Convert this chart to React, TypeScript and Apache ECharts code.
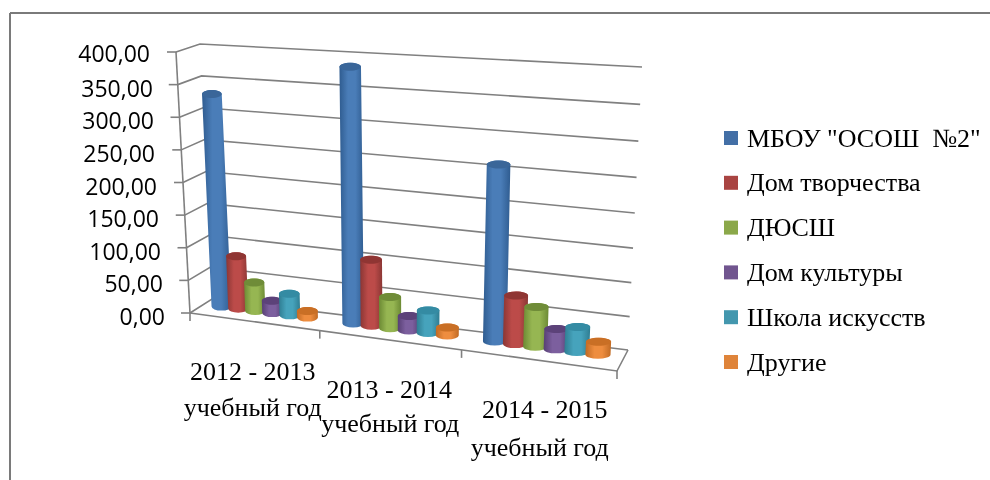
import React, { useEffect, useRef } from "react";
import * as echarts from "echarts";

const categories = ["2012 - 2013\nучебный год", "2013 - 2014\nучебный год", "2014 - 2015\nучебный год"];
const valueTicks = [0, 50, 100, 150, 200, 250, 300, 350, 400];
const seriesNames = ['МБОУ "ОСОШ  №2"', "Дом творчества", "ДЮСШ", "Дом культуры", "Школа искусств", "Другие"];
const mbou = [329, 383, 258];
const domTvorchestva = [81, 100, 72];
const dyussh = [44, 47, 59];
const domKultury = [19, 22, 30];
const shkolaIskusstv = [33, 34, 37];
const drugie = [10, 12, 19];
const seriesValues = [mbou, domTvorchestva, dyussh, domKultury, shkolaIskusstv, drugie];
const legendColors = ["#436FA6", "#A94442", "#8BA84A", "#71558F", "#4397AE", "#DF843A"];
const edgeColors = ["#2F5C90", "#8A3634", "#6C8A34", "#573F74", "#2F7D92", "#C06A24"];
const midColors = ["#4A7DB8", "#BC4B49", "#96B652", "#7C5F9E", "#46A3BC", "#EE8D3F"];
const capColors = ["#3A6699", "#8F3533", "#6F8C38", "#5C4279", "#348BA3", "#C96F25"];

const FL = [190, 313], FR = [617, 371], BL = [212, 299], BR = [628, 350];
const VFL = [-14, -261], VFR = [15, -297], VBL = [-12, -255], VBR = [14, -283];
const GRID = { left: 181, top: 52, width: 430.5, height: 261 };
const LINE = "#808080";
const DEPTH = 0.62;
const STEP = 0.135;
const GROUP_SHIFT = [-0.006, 0, 0];

const mix = (a: number[], b: number[], k: number) => [a[0] + (b[0] - a[0]) * k, a[1] + (b[1] - a[1]) * k];
const persp = (t: number) => t / (t + (1 - t) * 1.145);
const project = (t: number, d: number, h: number) => {
  const u = persp(t);
  const base = mix(mix(FL, FR, u), mix(BL, BR, u), d);
  const v = mix(mix(VFL, VFR, u), mix(VBL, VBR, u), d);
  const hh = h - 0.064 * u * h * (1 - h);
  return [base[0] + v[0] * hh, base[1] + v[1] * hh];
};

const yPadRight: Record<number, number> = { 0: 0, 50: 2, 100: 4, 150: 6, 200: 8, 250: 10, 300: 11, 350: 12, 400: 15 };
const yPadTop: Record<number, number> = { 0: 6, 50: 6, 100: 6, 150: 6, 200: 6, 250: 6, 300: 6, 350: 6, 400: 2 };
const yRich: any = {};
valueTicks.forEach((v) => {
  yRich["l" + v] = {
    fontFamily: "Open Sans", fontSize: 23, color: "#000",
    padding: [yPadTop[v], yPadRight[v], 0, 0],
  };
});
const xFont = { fontFamily: "Liberation Serif", fontSize: 26, color: "#000", verticalAlign: "bottom" };
const xRich: any = {
  a0: { ...xFont, lineHeight: 31 }, b0: { ...xFont, lineHeight: 36 },
  a1: { ...xFont, lineHeight: 49, padding: [0, 14, 0, 0] }, b1: { ...xFont, lineHeight: 34, padding: [0, 12, 0, 0] },
  a2: { ...xFont, lineHeight: 69, padding: [0, 0, 0, 10] }, b2: { ...xFont, lineHeight: 38 },
};

const renderWall = (params: any, api: any) => {
  const cs = params.coordSys;
  const h = (cs.y + cs.height - api.coord([0, api.value(1)])[1]) / cs.height;
  const style = { stroke: LINE, lineWidth: 1.6, fill: "none" };
  const a = project(0, 0, h), b = project(0, 1, h), c = project(1, 1, h);
  const children: any[] = [
    { type: "polyline", shape: { points: [a, b, c] }, style },
    { type: "line", shape: { x1: a[0] - 9, y1: a[1], x2: a[0], y2: a[1] }, style },
  ];
  if (params.dataIndex === 0) {
    const top = project(0, 0, 1);
    children.push({ type: "line", shape: { x1: a[0], y1: a[1], x2: top[0], y2: top[1] }, style });
    const fr = project(1, 0, 0);
    children.push({ type: "polyline", shape: { points: [a, fr, c] }, style });
    categories.concat([""]).forEach((_, i) => {
      const p = project(i / 3, 0, 0);
      children.push({ type: "line", shape: { x1: p[0], y1: p[1], x2: p[0], y2: p[1] + 8 }, style });
    });
  }
  return { type: "group", children };
};

const makeRenderBar = (j: number) => (params: any, api: any) => {
  const cs = params.coordSys;
  const pt = api.coord([api.value(0), api.value(1)]);
  const t = (pt[0] - cs.x) / cs.width + ((j - 2.5) * STEP) / categories.length + GROUP_SHIFT[api.value(0)];
  const h = (cs.y + cs.height - pt[1]) / cs.height;
  const base = project(t, DEPTH, 0);
  const top = project(t, DEPTH, h);
  const dt = STEP / categories.length / 2;
  const w = (project(t + dt, DEPTH, 0)[0] - project(t - dt, DEPTH, 0)[0]) * 1.18;
  const rx = w / 2, ry = 4;
  const d =
    `M${top[0] - rx} ${top[1]} L${base[0] - rx} ${base[1]} ` +
    `A${rx} ${ry} 0 0 0 ${base[0] + rx} ${base[1]} L${top[0] + rx} ${top[1]} ` +
    `A${rx} ${ry} 0 0 0 ${top[0] - rx} ${top[1]} Z`;
  const fill = new echarts.graphic.LinearGradient(0, 0, 1, 0, [
    { offset: 0, color: edgeColors[j] },
    { offset: 0.35, color: midColors[j] },
    { offset: 0.65, color: midColors[j] },
    { offset: 1, color: edgeColors[j] },
  ]);
  return {
    type: "group",
    children: [
      { type: "path", shape: { pathData: d }, style: { fill } },
      { type: "ellipse", shape: { cx: top[0], cy: top[1], rx, ry }, style: { fill: capColors[j] } },
    ],
  };
};

export default function App() {
  const ref = useRef<HTMLDivElement>(null);
  useEffect(() => {
    const chart = echarts.init(ref.current!, null, { renderer: "svg" });
    chart.setOption({
      animation: false,
      backgroundColor: "#fff",
      grid: { ...GRID },
      xAxis: {
        type: "category",
        data: categories,
        axisLine: { show: false },
        axisTick: { show: false },
        splitLine: { show: false },
        axisLabel: {
          margin: 40,
          interval: 0,
          hideOverlap: false,
          formatter: (v: string, i: number) => {
            const [a, b] = v.split("\n");
            return `{a${i}|${a}}\n{b${i}|${b}}`;
          },
          rich: xRich,
        },
      },
      yAxis: {
        type: "value",
        min: 0,
        max: 400,
        interval: 50,
        axisLine: { show: false },
        axisTick: { show: false },
        splitLine: { show: false },
        axisLabel: {
          margin: 16,
          formatter: (v: number) => `{l${v}|${v},00}`,
          rich: yRich,
        },
      },
      legend: {
        data: seriesNames,
        orient: "vertical",
        left: 724,
        top: 125,
        padding: 0,
        icon: "rect",
        itemWidth: 14,
        itemHeight: 14,
        itemGap: 18.8,
        selectedMode: false,
        textStyle: { fontFamily: "Liberation Serif", fontSize: 26, color: "#000", lineHeight: 24, padding: [0, 0, 0, 4] },
      },
      graphic: [
        { type: "line", shape: { x1: 10, y1: 13, x2: 990, y2: 13 }, style: { stroke: "#7a7a7a", lineWidth: 2 } },
        { type: "line", shape: { x1: 10, y1: 13, x2: 10, y2: 480 }, style: { stroke: "#7a7a7a", lineWidth: 2 } },
      ],
      series: [
        {
          type: "custom",
          name: "wall",
          renderItem: renderWall,
          clip: false,
          silent: true,
          z: 1,
          encode: { x: 0, y: 1 },
          data: valueTicks.map((v) => [0, v]),
        },
        ...seriesNames.map((name, j) => ({
          type: "custom",
          name,
          renderItem: makeRenderBar(j),
          clip: false,
          z: 2,
          itemStyle: { color: legendColors[j] },
          encode: { x: 0, y: 1 },
          data: seriesValues[j].map((v, i) => [i, v]),
        })),
      ],
    });
    return () => chart.dispose();
  }, []);
  return (
    <div
      ref={ref}
      style={{ position: "absolute", left: 0, top: 0, width: 990, height: 480, filter: "blur(0.5px)" }}
    />
  );
}
